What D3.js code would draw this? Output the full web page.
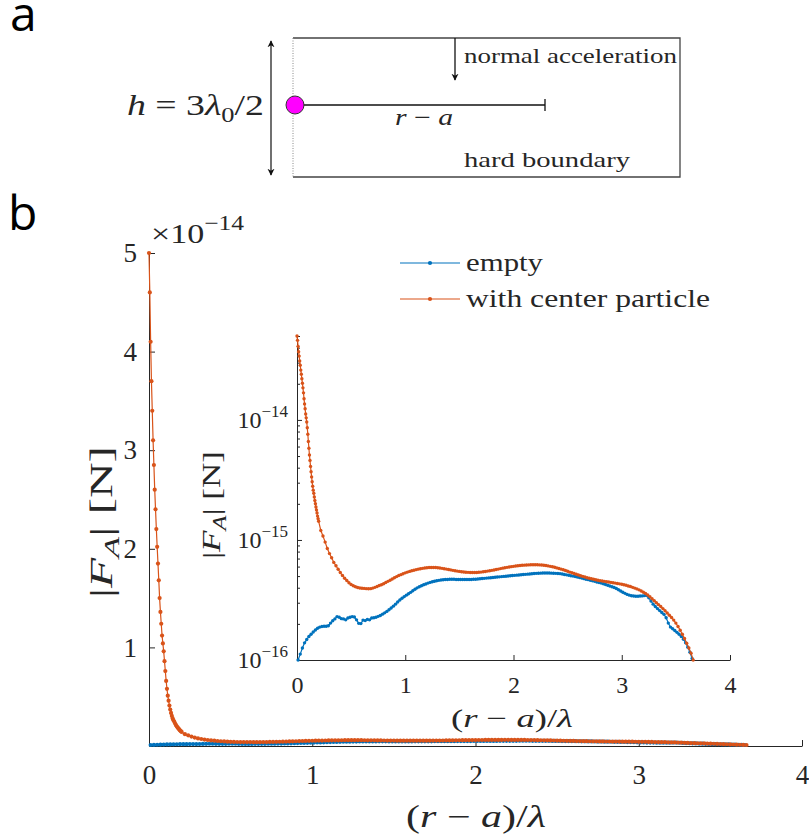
<!DOCTYPE html>
<meta charset="utf-8">
<script src="https://d3js.org/d3.v7.js"></script>
<style>
  body { margin: 0; background: #fff; }
  svg text { font-family: "Liberation Serif", serif; fill: #262626; }
  .panel { font-family: "Open Sans", sans-serif !important; fill: #000 !important; }
</style>
<body>
<div id="figure"></div>
<script>
// force |F_A| in units of 1e-16 N
const unit = 1e-16;
const fineStep = 0.005, coarseStep = 0.02;

// with center particle: x = 0 .. 0.2 (fine), then 0.22 .. 3.66 (coarse)
const centerSteep = [500, 460, 410, 370, 340, 310, 285, 260, 240, 220, 202, 185, 168, 150, 136, 124, 112, 104, 96, 86,
  76, 66, 58, 51, 46, 41, 37, 33.5, 30.5, 28, 26, 24.5, 22.8, 21.3, 20, 18.8, 17.8, 16.8, 15.8, 15, 14.3];
const centerStart = 0.22;
const centerFlat = [
  12.0, 10.8, 9.6, 8.5, 7.7, 7.1, 6.5, 6.1, 5.7, 5.35,
  5.05, 4.8, 4.6, 4.4, 4.25, 4.15, 4.07, 4.02, 3.98, 3.96,
  3.95, 3.93, 3.92, 3.93, 3.97, 4.03, 4.1, 4.17, 4.24, 4.32,
  4.42, 4.52, 4.62, 4.73, 4.84, 4.95, 5.05, 5.14, 5.23, 5.32,
  5.4, 5.47, 5.54, 5.6, 5.66, 5.71, 5.76, 5.8, 5.84, 5.87,
  5.89, 5.9, 5.9, 5.89, 5.87, 5.84, 5.8, 5.76, 5.72, 5.67,
  5.63, 5.58, 5.54, 5.5, 5.47, 5.44, 5.41, 5.39, 5.37, 5.36,
  5.35, 5.35, 5.36, 5.38, 5.4, 5.43, 5.46, 5.5, 5.54, 5.58,
  5.62, 5.67, 5.72, 5.77, 5.82, 5.87, 5.91, 5.95, 5.99, 6.03,
  6.06, 6.09, 6.12, 6.15, 6.17, 6.19, 6.2, 6.21, 6.22, 6.22,
  6.21, 6.2, 6.18, 6.15, 6.12, 6.08, 6.03, 5.98, 5.92, 5.85,
  5.78, 5.71, 5.64, 5.56, 5.48, 5.4, 5.33, 5.26, 5.18, 5.1,
  5.03, 4.97, 4.91, 4.85, 4.8, 4.75, 4.7, 4.66, 4.62, 4.58,
  4.55, 4.52, 4.49, 4.46, 4.43, 4.4, 4.37, 4.34, 4.31, 4.27,
  4.23, 4.19, 4.14, 4.09, 4.03, 3.97, 3.91, 3.84, 3.76, 3.67,
  3.58, 3.48, 3.36, 3.24, 3.12, 3.0, 2.89, 2.79, 2.68, 2.57,
  2.46, 2.36, 2.26, 2.15, 2.03, 1.9, 1.77, 1.64, 1.51, 1.38,
  1.26, 1.14, 1.0];

// empty: x = 0.01 .. 3.65
const emptyStart = 0.01;
const emptyVals = [
  1.0, 1.12, 1.26, 1.39, 1.48, 1.57, 1.64, 1.71, 1.78, 1.84,
  1.88, 1.9, 1.91, 1.91, 1.93, 2.03, 2.12, 2.2, 2.3, 2.27,
  2.21, 2.2, 2.16, 2.24, 2.27, 2.3, 2.28, 2.16, 2.02, 2.01,
  2.15, 2.13, 2.18, 2.16, 2.24, 2.25, 2.27, 2.31, 2.35, 2.41,
  2.47, 2.54, 2.62, 2.71, 2.81, 2.92, 3.04, 3.16, 3.27, 3.37,
  3.47, 3.56, 3.66, 3.77, 3.88, 3.99, 4.08, 4.16, 4.23, 4.3,
  4.37, 4.43, 4.48, 4.53, 4.57, 4.61, 4.64, 4.66, 4.68, 4.69,
  4.7, 4.7, 4.7, 4.69, 4.69, 4.68, 4.68, 4.68, 4.68, 4.68,
  4.69, 4.7, 4.71, 4.73, 4.75, 4.77, 4.79, 4.81, 4.83, 4.85,
  4.87, 4.89, 4.91, 4.93, 4.95, 4.97, 4.99, 5.01, 5.03, 5.05,
  5.07, 5.09, 5.11, 5.13, 5.15, 5.17, 5.19, 5.21, 5.23, 5.25,
  5.27, 5.28, 5.29, 5.3, 5.3, 5.3, 5.3, 5.29, 5.28, 5.27,
  5.26, 5.24, 5.2, 5.16, 5.12, 5.08, 5.04, 5.0, 4.96, 4.91,
  4.86, 4.81, 4.76, 4.71, 4.67, 4.62, 4.57, 4.52, 4.47, 4.42,
  4.37, 4.32, 4.26, 4.2, 4.14, 4.08, 4.02, 3.94, 3.85, 3.76,
  3.67, 3.59, 3.52, 3.47, 3.43, 3.41, 3.4, 3.4, 3.41, 3.42,
  3.44, 3.45, 3.3, 3.1, 2.92, 2.79, 2.68, 2.58, 2.49, 2.4,
  2.25, 2.03, 1.88, 1.82, 1.76, 1.7, 1.64, 1.57, 1.49, 1.39,
  1.28, 1.16, 1.03];

const seriesNames = ["empty", "with center particle"];
const seriesColors = ["#0072BD", "#D95319"];
const xTicks = [0, 1, 2, 3, 4];
const mainYTicks = [1e-14, 2e-14, 3e-14, 4e-14, 5e-14];
const insetYTicks = [1e-16, 1e-15, 1e-14];
const insetYExp = ["−16", "−15", "−14"];

const emptySeries = emptyVals.map((v, i) => ({ x: emptyStart + i * coarseStep, f: v * unit }));
const centerSeries = centerSteep.map((v, i) => ({ x: i * fineStep, f: v * unit }))
  .concat(centerFlat.map((v, i) => ({ x: centerStart + i * coarseStep, f: v * unit })));
const series = [emptySeries, centerSeries];

const width = 809, height = 840;
const axisColor = "#262626";

const svg = d3.select("#figure").append("svg")
  .attr("width", width).attr("height", height);

const defs = svg.append("defs");
defs.append("marker").attr("id", "head")
  .attr("viewBox", "0 0 10 10").attr("refX", 9).attr("refY", 5)
  .attr("markerWidth", 7).attr("markerHeight", 10).attr("orient", "auto-start-reverse")
  .attr("markerUnits", "userSpaceOnUse")
  .append("path").attr("d", "M0,0 L10,5 L0,10 L3,5 Z").attr("fill", "#111");

// rich math text helper: parts = [text, italic?, "sub"|"sup"|undefined]
function mathText(sel, parts, size) {
  let shift = 0;
  parts.forEach(([t, it, pos]) => {
    const sp = sel.append("tspan").text(t);
    if (it) sp.attr("font-style", "italic");
    const want = pos === "sub" ? size * 0.22 : pos === "sup" ? -size * 0.42 : 0;
    if (want !== shift) { sp.attr("dy", want - shift); shift = want; }
    if (pos) sp.attr("font-size", size * 0.7);
  });
  return sel;
}
const labelParts = [["|"], ["F", true], ["A", true, "sub"], ["| [N]"]];
const xLabelParts = [["("], ["r", true], [" − "], ["a", true], [")/"], ["λ", true]];

// ---------- panel labels ----------
svg.append("text").attr("class", "panel").attr("x", 10).attr("y", 31)
  .attr("font-size", 48).text("a");
svg.append("text").attr("class", "panel").attr("x", 8).attr("y", 230)
  .attr("font-size", 48).text("b");

// ---------- panel a: sketch ----------
const sk = svg.append("g");
sk.append("path").attr("d", "M293,38 H680 V177 H293")
  .attr("fill", "none").attr("stroke", "#444").attr("stroke-width", 1.3);
sk.append("line").attr("x1", 293).attr("x2", 293).attr("y1", 38).attr("y2", 177)
  .attr("stroke", "#888").attr("stroke-dasharray", "1,1.5");
sk.append("line").attr("x1", 271).attr("x2", 271).attr("y1", 41).attr("y2", 175)
  .attr("stroke", "#111").attr("stroke-width", 1.2)
  .attr("marker-start", "url(#head)").attr("marker-end", "url(#head)");
sk.append("line").attr("x1", 455).attr("x2", 455).attr("y1", 38).attr("y2", 80)
  .attr("stroke", "#111").attr("stroke-width", 1.3).attr("marker-end", "url(#head)");
sk.append("line").attr("x1", 300).attr("x2", 545).attr("y1", 105).attr("y2", 105)
  .attr("stroke", "#111").attr("stroke-width", 1.3);
sk.append("line").attr("x1", 545).attr("x2", 545).attr("y1", 99).attr("y2", 111)
  .attr("stroke", "#111").attr("stroke-width", 1.3);
sk.append("circle").attr("cx", 295).attr("cy", 105).attr("r", 9)
  .attr("fill", "#ff00ff").attr("stroke", "#333").attr("stroke-width", 1);

mathText(sk.append("text").attr("x", 127).attr("y", 115).attr("font-size", 30)
  .attr("textLength", 137).attr("lengthAdjust", "spacingAndGlyphs"),
  [["h", true], [" = 3"], ["λ", true], ["0", false, "sub"], ["/2"]], 30);

mathText(sk.append("text").attr("x", 395).attr("y", 125).attr("font-size", 23)
  .attr("textLength", 58).attr("lengthAdjust", "spacingAndGlyphs"),
  [["r", true], [" − "], ["a", true]], 23);

sk.append("text").attr("x", 464).attr("y", 63).attr("font-size", 21)
  .attr("textLength", 213).attr("lengthAdjust", "spacingAndGlyphs").text("normal acceleration");
sk.append("text").attr("x", 464).attr("y", 167).attr("font-size", 21)
  .attr("textLength", 166).attr("lengthAdjust", "spacingAndGlyphs").text("hard boundary");

// ---------- panel b: main axes ----------
const x = d3.scaleLinear().domain([0, 4]).range([149, 802]);
const y = d3.scaleLinear().domain([0, 5e-14]).range([746, 253]);

const gx = svg.append("g").attr("transform", `translate(0,${y(0)})`)
  .call(d3.axisBottom(x).tickValues(xTicks).tickSize(-6).tickSizeOuter(0).tickPadding(19)
    .tickFormat(d3.format("d")));
const gy = svg.append("g").attr("transform", `translate(${x(0)},0)`)
  .call(d3.axisLeft(y).tickValues(mainYTicks).tickSize(-6).tickSizeOuter(0).tickPadding(12)
    .tickFormat(d => Math.round(d / 1e-14)));
[gx, gy].forEach(g => {
  g.attr("font-family", null).attr("font-size", null);
  g.selectAll("path,line").attr("stroke", axisColor);
  g.selectAll("text").attr("font-size", 27).attr("fill", axisColor);
});

const expTxt = svg.append("text").attr("x", 151).attr("y", 243).attr("font-size", 28)
  .attr("textLength", 93).attr("lengthAdjust", "spacingAndGlyphs");
expTxt.append("tspan").text("×10");
expTxt.append("tspan").attr("font-size", 21).attr("dy", -13).text("−14");

mathText(svg.append("text").attr("transform", "translate(112,522) rotate(-90)")
  .attr("text-anchor", "middle").attr("font-size", 31)
  .attr("textLength", 152).attr("lengthAdjust", "spacingAndGlyphs"), labelParts, 31);

mathText(svg.append("text").attr("x", 476).attr("y", 827)
  .attr("text-anchor", "middle").attr("font-size", 31)
  .attr("textLength", 140).attr("lengthAdjust", "spacingAndGlyphs"), xLabelParts, 31);

const mainLine = d3.line().x(d => x(d.x)).y(d => y(d.f));
series.forEach((s, k) => {
  const g = svg.append("g");
  g.append("path").datum(s).attr("d", mainLine).attr("fill", "none")
    .attr("stroke", seriesColors[k]).attr("stroke-width", 1.2);
  g.selectAll("circle").data(s).join("circle")
    .attr("cx", d => x(d.x)).attr("cy", d => y(d.f)).attr("r", 2.1)
    .attr("fill", seriesColors[k]);
});

// legend
const legendWidths = [77, 244];
const legend = svg.append("g");
seriesNames.forEach((name, k) => {
  const ly = 263 + k * 36;
  legend.append("line").attr("x1", 400).attr("x2", 460).attr("y1", ly).attr("y2", ly)
    .attr("stroke", seriesColors[k]).attr("stroke-width", 1.2);
  legend.append("circle").attr("cx", 430).attr("cy", ly).attr("r", 2.1).attr("fill", seriesColors[k]);
  legend.append("text").attr("x", 466).attr("y", ly).attr("dy", "0.3em")
    .attr("font-size", 26).attr("textLength", legendWidths[k])
    .attr("lengthAdjust", "spacingAndGlyphs").text(name);
});

// ---------- inset (log scale) ----------
const xi = d3.scaleLinear().domain([0, 4]).range([297, 730]);
const yi = d3.scaleLog().domain([1e-16, 5e-14]).range([660, 336]);

const inset = svg.append("g");
inset.append("rect").attr("x", 297).attr("y", 336).attr("width", 433).attr("height", 324).attr("fill", "#fff");

const gxi = inset.append("g").attr("transform", `translate(0,${yi(1e-16)})`)
  .call(d3.axisBottom(xi).tickValues(xTicks).tickSize(-5).tickSizeOuter(0).tickPadding(16)
    .tickFormat(d3.format("d")));
const gyi = inset.append("g").attr("transform", `translate(${xi(0)},0)`)
  .call(d3.axisLeft(yi).tickValues(yi.ticks()).tickSizeOuter(0).tickFormat(""));
gyi.selectAll(".tick line").attr("x2", d => insetYTicks.includes(d) ? 5 : 3);
[gxi, gyi].forEach(g => {
  g.attr("font-family", null).attr("font-size", null);
  g.selectAll("path,line").attr("stroke", axisColor);
  g.selectAll("text").attr("font-size", 24).attr("fill", axisColor);
});

insetYTicks.forEach((t, i) => {
  const lab = inset.append("text").attr("x", 288).attr("y", yi(t) + 8)
    .attr("text-anchor", "end").attr("font-size", 24);
  lab.append("tspan").text("10");
  lab.append("tspan").attr("font-size", 17).attr("dy", -11).text(insetYExp[i]);
});

mathText(inset.append("text").attr("transform", "translate(220,505) rotate(-90)")
  .attr("text-anchor", "middle").attr("font-size", 26)
  .attr("textLength", 108).attr("lengthAdjust", "spacingAndGlyphs"), labelParts, 26);

mathText(inset.append("text").attr("x", 512).attr("y", 727)
  .attr("text-anchor", "middle").attr("font-size", 26)
  .attr("textLength", 122).attr("lengthAdjust", "spacingAndGlyphs"), xLabelParts, 26);

const insetLine = d3.line().x(d => xi(d.x)).y(d => yi(d.f));
series.forEach((s, k) => {
  const g = inset.append("g");
  g.append("path").datum(s).attr("d", insetLine).attr("fill", "none")
    .attr("stroke", seriesColors[k]).attr("stroke-width", 1.2);
  g.selectAll("circle").data(s).join("circle")
    .attr("cx", d => xi(d.x)).attr("cy", d => yi(d.f)).attr("r", 1.7)
    .attr("fill", seriesColors[k]);
});
</script>
</body>
